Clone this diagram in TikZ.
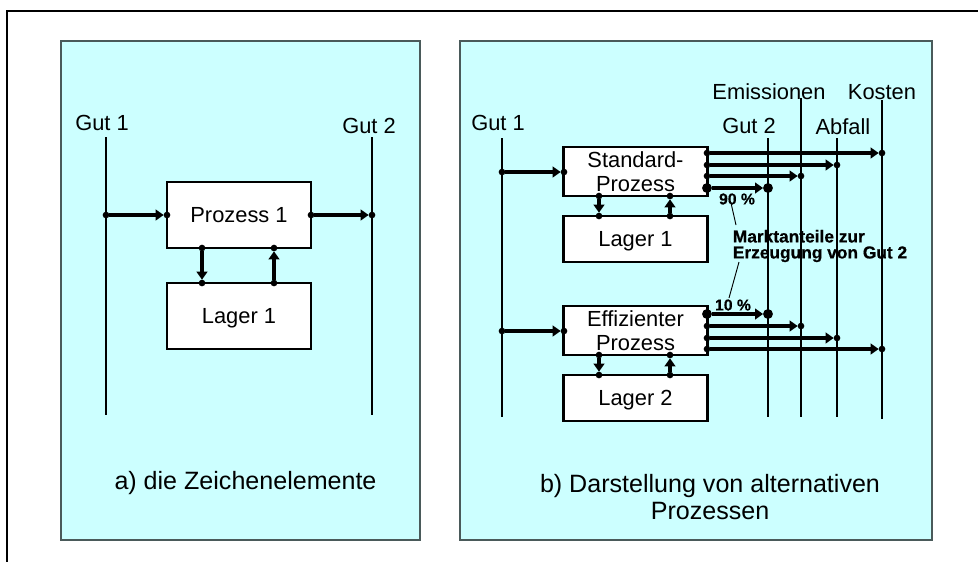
\documentclass[tikz,border=0pt]{standalone}
\usepackage{fontspec}
\setmainfont{Liberation Sans}
\usetikzlibrary{arrows.meta}
\tikzset{
  panel/.style={fill=panelcol,draw=panelline,line width=1.2pt},
  box/.style={draw=black,fill=white,line width=1.6pt,inner sep=0pt,minimum width=108pt,align=center,font=\fontsize{16.4}{18}\selectfont},
  oneline/.style={text height=11.7pt,text depth=0pt},
  rail/.style={draw=black,line width=1.6pt},
  dot/.style={circle,fill=black,inner sep=0pt,outer sep=0pt,minimum size=5pt},
  bigdot/.style={circle,fill=black,inner sep=0pt,outer sep=0pt,minimum size=7.4pt},
  flow/.style={draw=black,line width=2.5pt,-{Triangle[length=6pt,width=8pt]}},
  label/.style={inner sep=0pt,align=center,font=\fontsize{16.4}{18}\selectfont},
  caption/.style={inner sep=0pt,align=center,font=\fontsize{18.8}{20.3}\selectfont},
  share/.style={inner sep=0pt,align=left,font=\fontsize{13}{12}\selectfont\bfseries\addfontfeatures{FakeBold=0.5}},
  pct/.style={inner sep=0pt,font=\fontsize{11.8}{12}\selectfont\bfseries\addfontfeatures{FakeBold=0.5}},
  leader/.style={draw=black,line width=0.7pt}
}
\definecolor{panelcol}{HTML}{CCFFFF}
\definecolor{panelline}{HTML}{4A5A5A}
\begin{document}
\begin{tikzpicture}[x=0.75pt,y=-0.75pt]
\useasboundingbox (0,0) rectangle (978,562);
\draw[black,line width=1.6pt] (978,11) -- (7,11) -- (7,562);
\path[panel] (61,41) rectangle (420,540);
\path[panel] (460,41) rectangle (932,540);

% ---------- panel a
\coordinate (aG1t) at (106,137); \coordinate (aG1b) at (106,415);
\coordinate (aG2t) at (372,137); \coordinate (aG2b) at (372,415);
\draw[rail] (aG1t) -- (aG1b);
\draw[rail] (aG2t) -- (aG2b);
\node[label,oneline] (aGut1) at (102,123) {Gut 1};
\node[label,oneline] (aGut2) at (369,126) {Gut 2};
\node[box,oneline,minimum height=49.5pt] (aP) at (239,215) {Prozess 1};
\node[box,oneline,minimum height=49.5pt] (aL) at (239,316) {Lager 1};
\node[dot] (a1) at (106,215) {};
\node[dot] (a2) at (167,215) {};
\node[dot] (a3) at (311,215) {};
\node[dot] (a4) at (372,215) {};
\node[dot] (a5) at (202,248) {};
\node[dot] (a6) at (202,283) {};
\node[dot] (a7) at (274,283) {};
\node[dot] (a8) at (274,248) {};
\draw[flow] (a1) -- (a2);
\draw[flow] (a3) -- (a4);
\draw[flow] (a5) -- (a6);
\draw[flow] (a7) -- (a8);
\node[caption] (aCap) at (245.5,483) {a) die Zeichenelemente};

% ---------- panel b
\coordinate (bG1t) at (502,138); \coordinate (bG1b) at (502,417);
\coordinate (bG2t) at (768,138); \coordinate (bG2b) at (768,417);
\coordinate (bEt) at (801,98);   \coordinate (bEb) at (801,417);
\coordinate (bAt) at (837,138);  \coordinate (bAb) at (837,417);
\coordinate (bKt) at (882,100);  \coordinate (bKb) at (882,419);
\node[label,oneline] (bGut1) at (498,123) {Gut 1};
\node[label,oneline] (bGut2) at (749,126) {Gut 2};
\node[label,oneline] (bEm) at (769,92) {Emissionen};
\node[label,oneline] (bKo) at (882,92) {Kosten};
\node[label,oneline] (bAb2) at (843,127) {Abfall};
\node[share] (bMa) at (820,246) {Marktanteile zur\\Erzeugung von Gut 2};
\draw[rail] (bG1t) -- (bG1b);
\draw[rail] (bG2t) -- (bG2b);
\draw[rail] (bEt) -- (bEb);
\draw[rail] (bAt) -- (bAb);
\draw[rail] (bKt) -- (bKb);
\node[box,minimum height=36.75pt] (bS) at (635.5,171.5) {Standard-\\Prozess};
\node[box,oneline,minimum height=34.5pt] (bL1) at (635.5,239) {Lager 1};
\node[box,minimum height=36.75pt] (bE) at (635.5,330.5) {Effizienter\\Prozess};
\node[box,oneline,minimum height=34.5pt] (bL2) at (635.5,398) {Lager 2};

\node[dot] (s0) at (502,172) {};
\node[dot] (s1) at (564,172) {};
\draw[flow] (s0) -- (s1);
\node[dot] (sK0) at (707,153) {}; \node[dot] (sK1) at (882,153) {};
\node[dot] (sA0) at (707,165) {}; \node[dot] (sA1) at (837,165) {};
\node[dot] (sE0) at (707,176) {}; \node[dot] (sE1) at (801,176) {};
\node[bigdot] (sG0) at (707,188) {}; \node[bigdot] (sG1) at (768,188) {};
\draw[flow] (sK0) -- (sK1);
\draw[flow] (sA0) -- (sA1);
\draw[flow] (sE0) -- (sE1);
\draw[flow] (sG0) -- (sG1);
\node[dot] (s2) at (599,196) {}; \node[dot] (s3) at (599,216) {};
\node[dot] (s4) at (670,216) {}; \node[dot] (s5) at (670,196) {};
\draw[flow] (s2) -- (s3);
\draw[flow] (s4) -- (s5);

\node[dot] (e0) at (502,331) {};
\node[dot] (e1) at (564,331) {};
\draw[flow] (e0) -- (e1);
\node[bigdot] (eG0) at (707,314) {}; \node[bigdot] (eG1) at (768,314) {};
\node[dot] (eE0) at (707,326) {}; \node[dot] (eE1) at (801,326) {};
\node[dot] (eA0) at (707,338) {}; \node[dot] (eA1) at (837,338) {};
\node[dot] (eK0) at (707,349) {}; \node[dot] (eK1) at (882,349) {};
\draw[flow] (eG0) -- (eG1);
\draw[flow] (eE0) -- (eE1);
\draw[flow] (eA0) -- (eA1);
\draw[flow] (eK0) -- (eK1);
\node[dot] (e2) at (599,355) {}; \node[dot] (e3) at (599,375) {};
\node[dot] (e4) at (670,375) {}; \node[dot] (e5) at (670,355) {};
\draw[flow] (e2) -- (e3);
\draw[flow] (e4) -- (e5);

\node[pct] (p90) at (737,199) {90 \%};
\node[pct] (p10) at (733,305) {10 \%};
\coordinate (l1a) at (731,203); \coordinate (l1b) at (736,225);
\coordinate (l2a) at (739,262); \coordinate (l2b) at (729,298);
\draw[leader] (l1a) -- (l1b);
\draw[leader] (l2a) -- (l2b);
\node[caption] (bCap) at (710,497) {b) Darstellung von alternativen\\Prozessen};
\end{tikzpicture}
\end{document}
